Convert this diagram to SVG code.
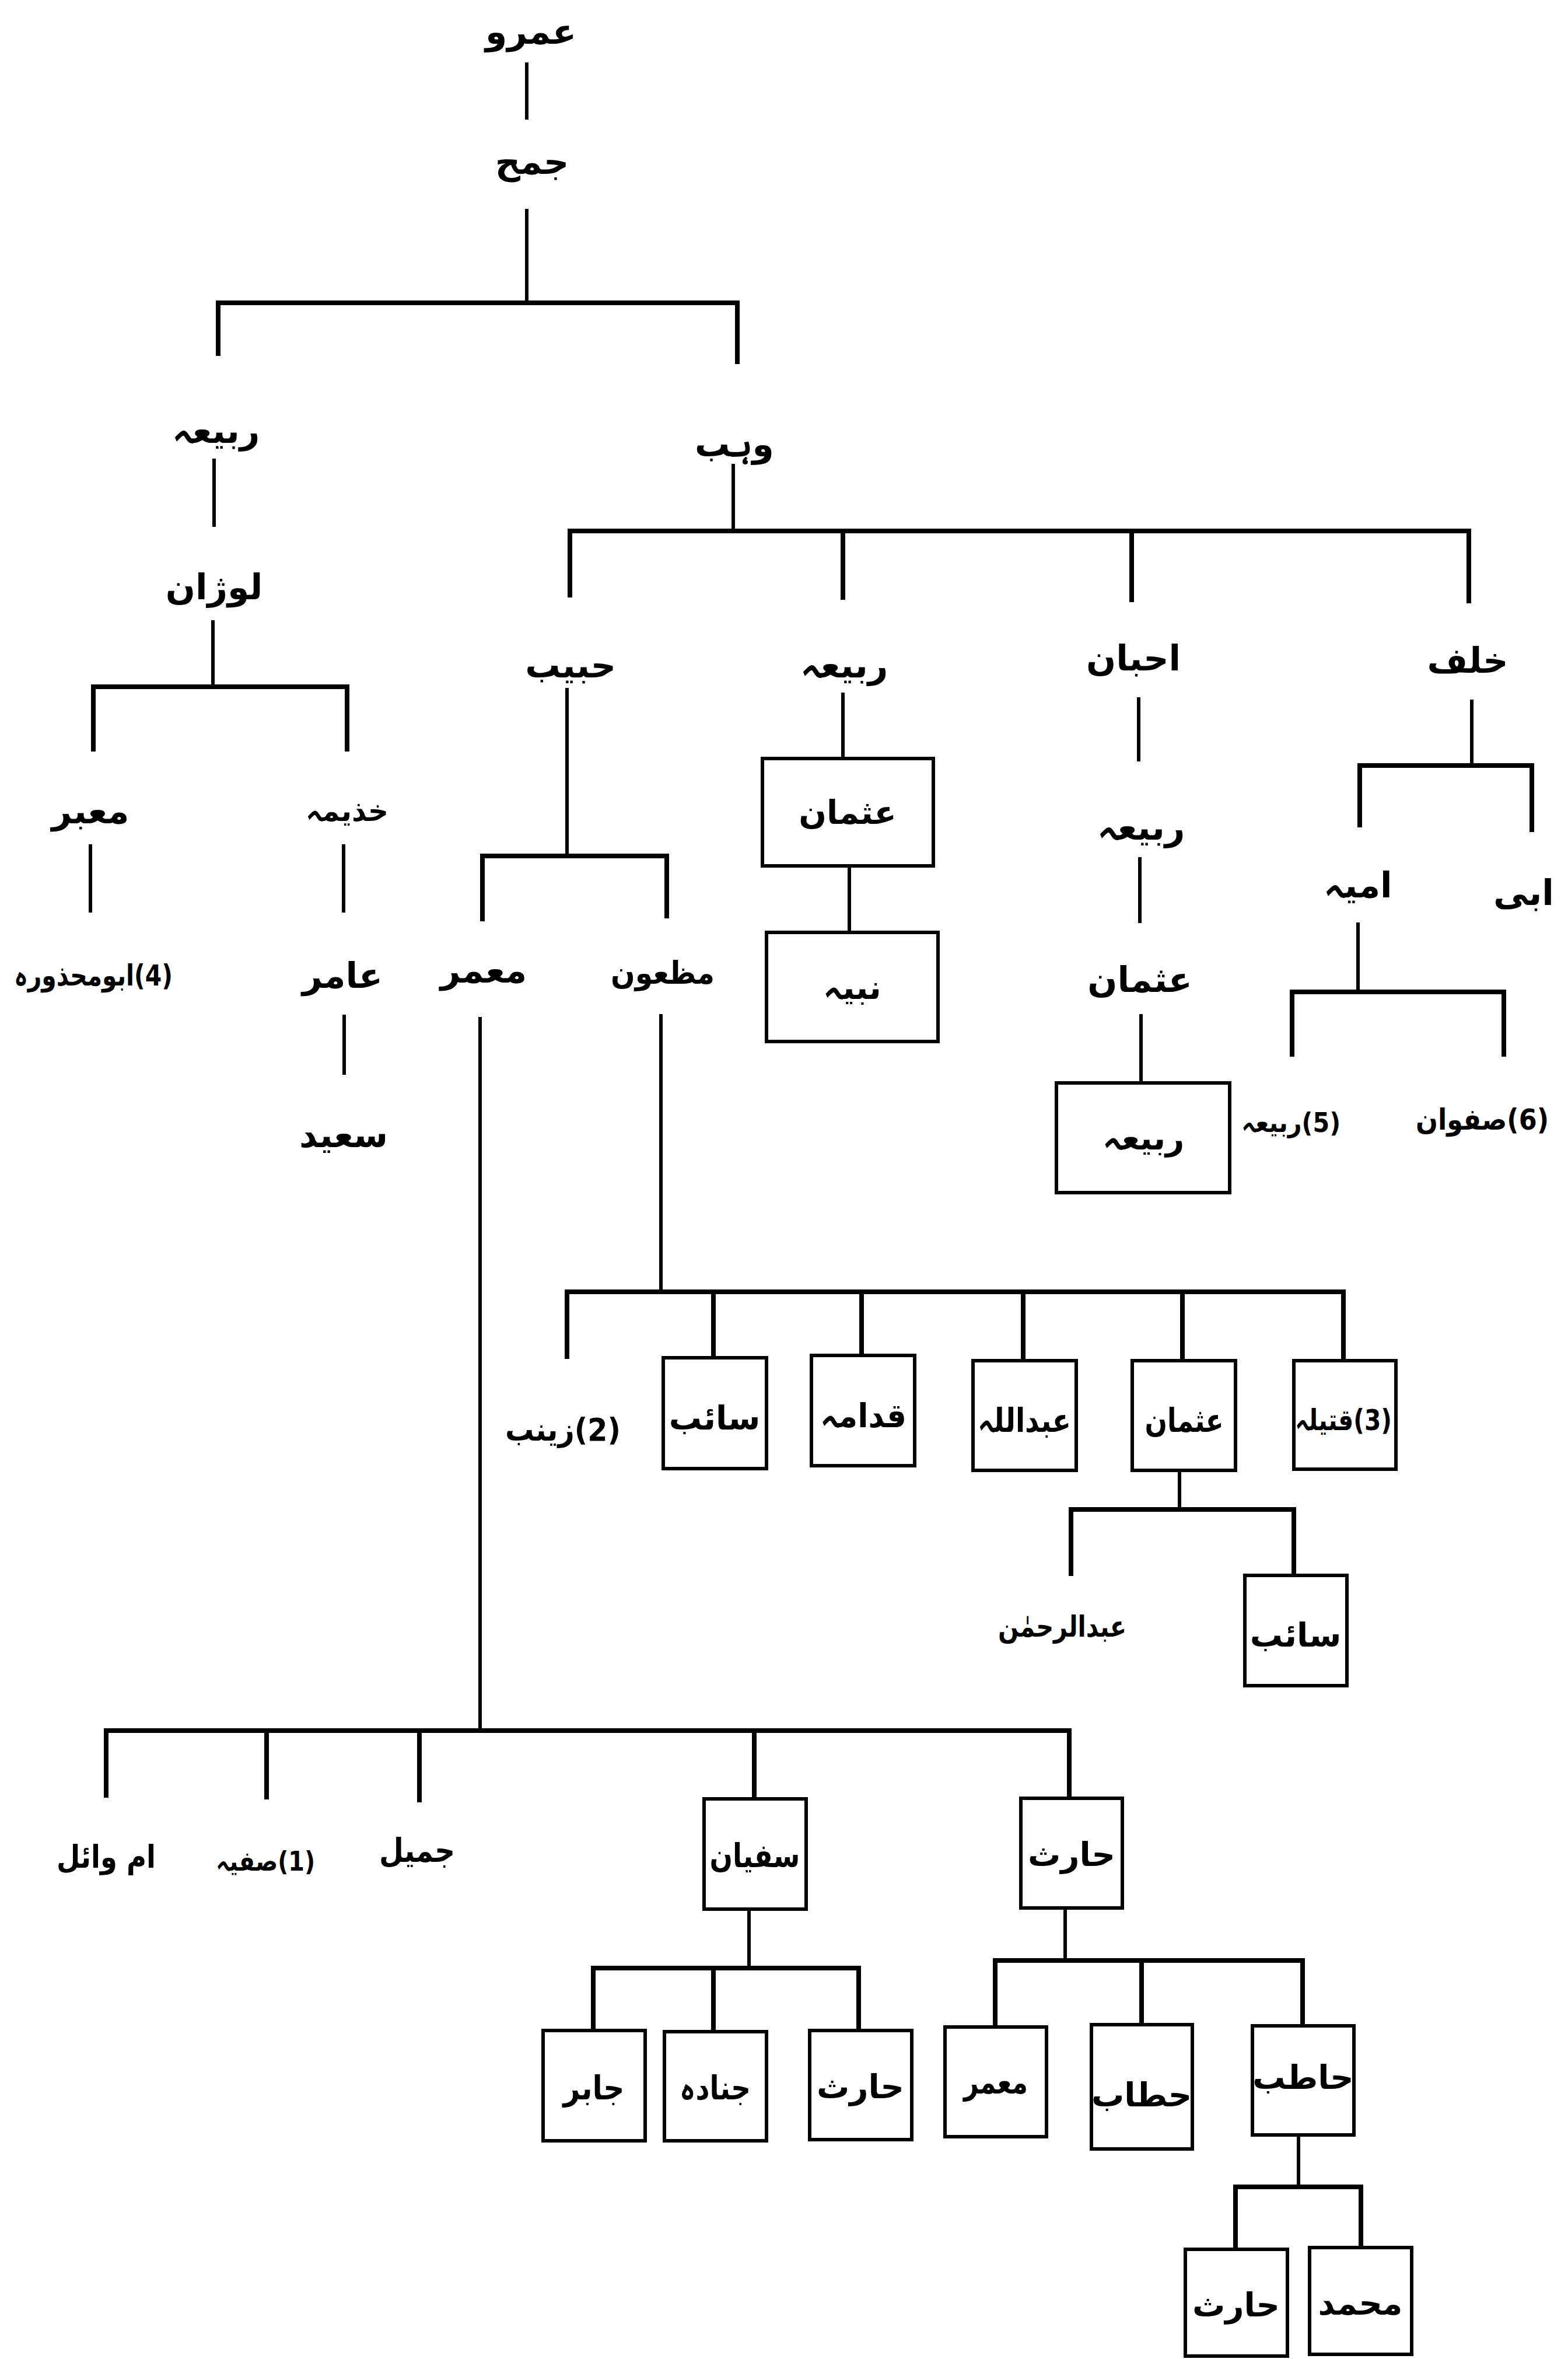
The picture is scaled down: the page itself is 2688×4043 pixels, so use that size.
<svg xmlns="http://www.w3.org/2000/svg" width="2688" height="4043" viewBox="0 0 2688 4043">
<style>
text{font-family:"DejaVu Sans","Noto Sans",sans-serif;font-weight:bold;fill:#000;text-anchor:middle;dominant-baseline:central}
.t{font-size:60px}
.s{font-size:50px}
.bx{font-size:56px}
.rtl{direction:rtl;unicode-bidi:embed}
.box{fill:#fff;stroke:#000;stroke-width:6}
#connectors path{fill:none;stroke:#000;stroke-width:6;stroke-linecap:square}
#connectors .h{stroke-width:8}
</style>
<rect width="2688" height="4043" fill="#fff"/>
<g id="connectors">
<path d="M903 110V202M903 361V519"/>
<path class="h" d="M374 606V519H1264V620"/>
<path d="M367 789V900M365 1066V1177"/>
<path class="h" d="M160 1284V1177H595V1284"/>
<path d="M155 1450V1561M589 1450V1561M590 1742V1839"/>
<path d="M1257 798V910"/>
<path class="h" d="M977 1020V910H2518V1030M1445 910V1024M1940 910V1028"/>
<path d="M972 1182V1467"/>
<path class="h" d="M827 1575V1467H1143V1570"/>
<path d="M823 1746V2966M1133 1741V2214"/>
<path d="M1445 1190V1300M1456 1484V1598"/>
<path d="M1952 1198V1302M1954 1472V1579M1956 1741V1856"/>
<path d="M2523 1202V1312"/>
<path class="h" d="M2331 1414V1312H2626V1422"/>
<path d="M2328 1584V1700"/>
<path class="h" d="M2215 1807V1700H2578V1807"/>
<path class="h" d="M972 2325V2214H2303V2332M1223 2214V2327M1477 2214V2323M1754 2214V2332M2027 2214V2332"/>
<path d="M2022 2520V2587"/>
<path class="h" d="M1836 2697V2587H2218V2700"/>
<path class="h" d="M182 3077V2966H1833V3082M457 2966V3080M719 2966V3085M1293 2966V3083"/>
<path d="M1284 3272V3373"/>
<path class="h" d="M1017 3480V3373H1472V3480M1223 3373V3482"/>
<path d="M1826 3270V3360"/>
<path class="h" d="M1706 3474V3360H2233V3472M1957 3360V3470"/>
<path d="M2226 3659V3748"/>
<path class="h" d="M2118 3855V3748H2333V3852"/>
</g>
<g id="n-amr"><text class="t" x="910" y="54">عمرو</text></g>
<g id="n-jumah"><text class="t" x="912" y="277">جمح</text></g>
<g id="n-rabia1"><text class="t" x="370" y="738">ربیعہ</text></g>
<g id="n-lawzan"><text class="t" x="367" y="1006">لوژان</text></g>
<g id="n-mabar"><text class="t" x="155" y="1390">معبر</text></g>
<g id="n-khuzaima"><text class="s" x="595" y="1390" textLength="142" lengthAdjust="spacingAndGlyphs">خذیمہ</text></g>
<g id="n-abumahzura"><text class="s rtl" x="160" y="1672" textLength="272" lengthAdjust="spacingAndGlyphs">(4)ابومحذورہ</text></g>
<g id="n-amir"><text class="t" x="587" y="1672">عامر</text></g>
<g id="n-saeed"><text class="t" x="589" y="1945">سعید</text></g>
<g id="n-wahb"><text class="t" x="1259" y="761">وہب</text></g>
<g id="n-habib"><text class="t" x="978" y="1140">حبیب</text></g>
<g id="n-rabia2"><text class="t" x="1447" y="1140">ربیعہ</text></g>
<g id="n-uhban"><text class="t" x="1943" y="1128">احبان</text></g>
<g id="n-khalaf"><text class="t" x="2516" y="1132">خلف</text></g>
<g id="n-usman1"><rect class="box" x="1307" y="1300" width="293" height="184"/><text class="bx" x="1453" y="1392">عثمان</text></g>
<g id="n-nubaih"><rect class="box" x="1314" y="1598" width="294" height="187"/><text class="bx" x="1461" y="1692">نبیہ</text></g>
<g id="n-rabia3"><text class="t" x="1956" y="1418">ربیعہ</text></g>
<g id="n-usman2"><text class="t" x="1954" y="1679">عثمان</text></g>
<g id="n-rabia4"><rect class="box" x="1811" y="1856" width="297" height="188"/><text class="bx" x="1960" y="1950">ربیعہ</text></g>
<g id="n-umayya"><text class="t" x="2328" y="1517">امیہ</text></g>
<g id="n-ubayy"><text class="t" x="2612" y="1530">ابی</text></g>
<g id="n-rabia5"><text class="s rtl" x="2213" y="1924" textLength="170" lengthAdjust="spacingAndGlyphs" style="font-size:46px">(5)ربیعہ</text></g>
<g id="n-safwan"><text class="s rtl" x="2541" y="1919" textLength="228" lengthAdjust="spacingAndGlyphs">(6)صفوان</text></g>
<g id="n-mamar1"><text class="t" x="829" y="1663">معمر</text></g>
<g id="n-mazoon"><text class="s" x="1136" y="1667" textLength="178" lengthAdjust="spacingAndGlyphs" style="font-size:54px">مظعون</text></g>
<g id="n-zainab"><text class="s rtl" x="965" y="2450" textLength="198" lengthAdjust="spacingAndGlyphs" style="font-size:54px">(2)زینب</text></g>
<g id="n-saib1"><rect class="box" x="1137" y="2327" width="177" height="190"/><text class="bx" x="1225" y="2430">سائب</text></g>
<g id="n-qudama"><rect class="box" x="1391" y="2323" width="177" height="189"/><text class="bx" x="1480" y="2426" textLength="148" lengthAdjust="spacingAndGlyphs">قدامہ</text></g>
<g id="n-abdullah"><rect class="box" x="1668" y="2332" width="177" height="188"/><text class="bx" x="1756" y="2434" textLength="160" lengthAdjust="spacingAndGlyphs">عبداللہ</text></g>
<g id="n-usman3"><rect class="box" x="1941" y="2332" width="177" height="188"/><text class="bx" x="2030" y="2434" textLength="135" lengthAdjust="spacingAndGlyphs">عثمان</text></g>
<g id="n-qutaila"><rect class="box" x="2218" y="2332" width="175" height="186"/><text class="bx rtl" x="2303" y="2434" textLength="166" lengthAdjust="spacingAndGlyphs" style="font-size:50px">(3)قتیلہ</text></g>
<g id="n-abdulrahman"><text class="s" x="1821" y="2788" textLength="220" lengthAdjust="spacingAndGlyphs">عبدالرحمٰن</text></g>
<g id="n-saib2"><rect class="box" x="2134" y="2700" width="175" height="189"/><text class="bx" x="2221" y="2802">سائب</text></g>
<g id="n-ummwail"><text class="s" x="182" y="3182" textLength="170" lengthAdjust="spacingAndGlyphs" style="font-size:54px">ام وائل</text></g>
<g id="n-safiyya"><text class="s rtl" x="455" y="3190" textLength="170" lengthAdjust="spacingAndGlyphs" style="font-size:46px">(1)صفیہ</text></g>
<g id="n-jamil"><text class="s" x="715" y="3171" textLength="130" lengthAdjust="spacingAndGlyphs" style="font-size:56px">جمیل</text></g>
<g id="n-sufyan"><rect class="box" x="1207" y="3083" width="175" height="189"/><text class="bx" x="1294" y="3180" textLength="155" lengthAdjust="spacingAndGlyphs">سفیان</text></g>
<g id="n-haris1"><rect class="box" x="1750" y="3082" width="174" height="188"/><text class="bx" x="1837" y="3178">حارث</text></g>
<g id="n-jabir"><rect class="box" x="931" y="3480" width="175" height="189"/><text class="bx" x="1018" y="3578" textLength="105" lengthAdjust="spacingAndGlyphs">جابر</text></g>
<g id="n-junada"><rect class="box" x="1139" y="3482" width="175" height="187"/><text class="bx" x="1226" y="3578" textLength="122" lengthAdjust="spacingAndGlyphs">جنادہ</text></g>
<g id="n-haris2"><rect class="box" x="1388" y="3480" width="175" height="187"/><text class="bx" x="1475" y="3576">حارث</text></g>
<g id="n-mamar2"><rect class="box" x="1620" y="3474" width="174" height="188"/><text class="bx" x="1707" y="3568" textLength="110" lengthAdjust="spacingAndGlyphs">معمر</text></g>
<g id="n-hattab"><rect class="box" x="1871" y="3470" width="173" height="213"/><text class="bx" x="1957" y="3590">حطاب</text></g>
<g id="n-hatib"><rect class="box" x="2147" y="3472" width="174" height="187"/><text class="bx" x="2234" y="3560">حاطب</text></g>
<g id="n-haris3"><rect class="box" x="2032" y="3855" width="175" height="183"/><text class="bx" x="2119" y="3950">حارث</text></g>
<g id="n-muhammad"><rect class="box" x="2245" y="3852" width="175" height="183"/><text class="bx" x="2332" y="3947">محمد</text></g>
</svg>
